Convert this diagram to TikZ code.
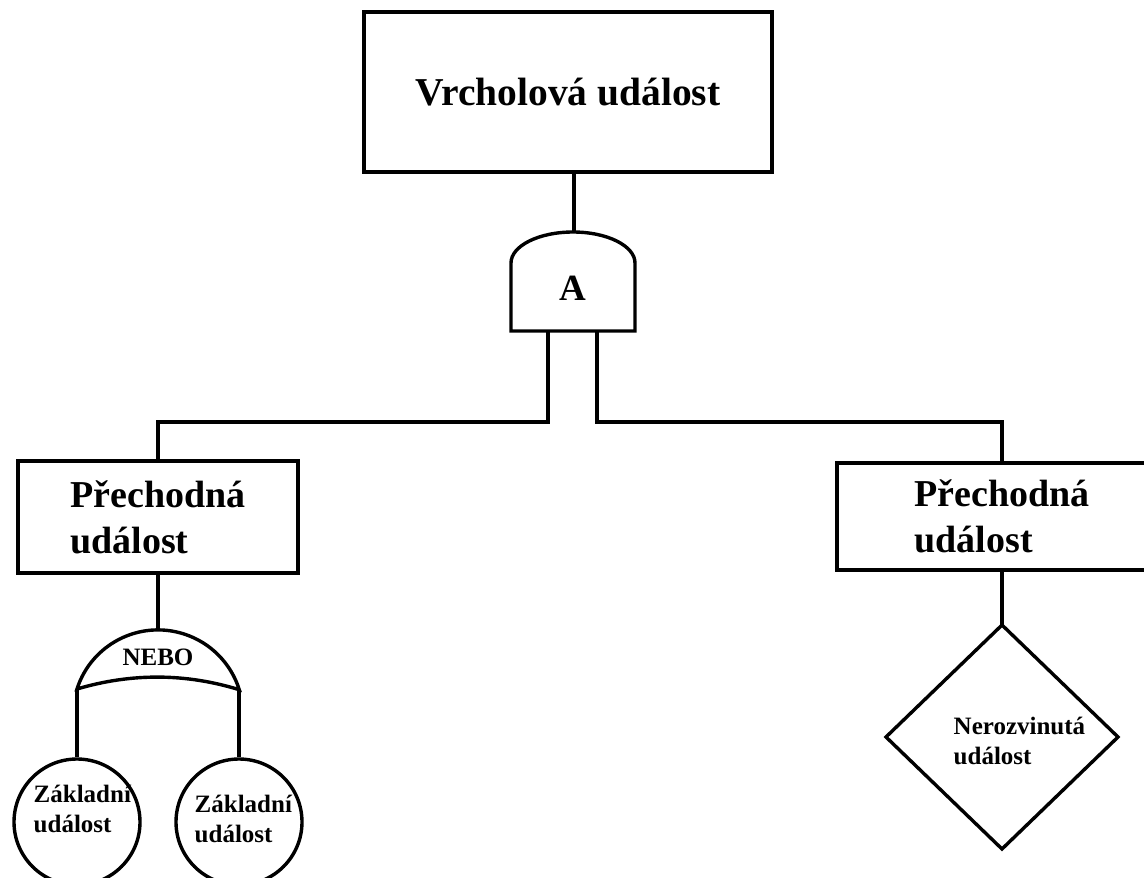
\documentclass[tikz,border=0pt]{standalone}
\usepackage{fontspec}
\setmainfont{Liberation Serif}
\begin{document}
\begin{tikzpicture}[x=1pt,y=-1pt,
  line width=3.4pt,
  box/.style={draw, rectangle, inner sep=0pt, align=left, font=\bfseries\fontsize{38}{46}\selectfont},
  evcircle/.style={draw, circle, inner sep=0pt, minimum size=126pt},
  smalltext/.style={inner sep=0pt, align=left, font=\bfseries\fontsize{25}{30}\selectfont},
  gatetext/.style={inner sep=0pt, font=\bfseries\fontsize{25}{30}\selectfont}]
\useasboundingbox (0,0) rectangle (1144,878);

% top event
\node[box, minimum width=408pt, minimum height=160pt, font=\bfseries\fontsize{39.5}{46}\selectfont] (top) at (568,92) {Vrcholová událost};

% AND gate
\coordinate (andtop) at (574,232);
\coordinate (andL) at (548,331);
\coordinate (andR) at (597,331);
\draw (511,331) -- (511,263) arc[start angle=180, end angle=0, x radius=62pt, y radius=31pt] -- (635,331) -- cycle;
\node[inner sep=0pt, font=\bfseries\fontsize{37}{40}\selectfont] (andlbl) at (573,288) {A};
\draw (andtop |- top.south) -- (andtop);

% intermediate events
\node[box, minimum width=280pt, minimum height=112pt] (lbox) at (158,517) {Přechodná\\událost};
\node[box, minimum width=330pt, minimum height=107pt] (rbox) at (1002,516.5) {Přechodná\\událost};
\draw (andL) -- ++(0,91) -| (lbox.north);
\draw (andR) -- ++(0,91) -| (rbox.north);

% OR gate
\coordinate (ortop) at (158,630);
\coordinate (orL) at (77,689);
\coordinate (orR) at (239,690);
\draw (orL) arc[start angle=162.2, end angle=17.3, radius=85.1pt]
      .. controls (185,673) and (131,673) .. (orL) -- cycle;
\node[gatetext] (orlbl) at (158,657) {NEBO};
\draw (lbox.south) -- (ortop);

% basic events
\node[evcircle] (c1) at (77,822) {};
\node[evcircle] (c2) at (239,822) {};
\node[smalltext, anchor=west] (t1) at (32,809) {Základní\\událost};
\node[smalltext, anchor=west] (t2) at (193,819) {Základní\\událost};
\draw (orL) -- (c1.north);
\draw (orR) -- (c2.north);

% undeveloped event
\coordinate (dtop) at (1002,625);
\coordinate (dright) at (1118,737);
\coordinate (dbot) at (1002,849);
\coordinate (dleft) at (886,737);
\draw (dtop) -- (dright) -- (dbot) -- (dleft) -- cycle;
\node[smalltext, anchor=west] (t3) at (952,741) {Nerozvinutá\\událost};
\draw (rbox.south) -- (dtop);
\end{tikzpicture}
\end{document}
